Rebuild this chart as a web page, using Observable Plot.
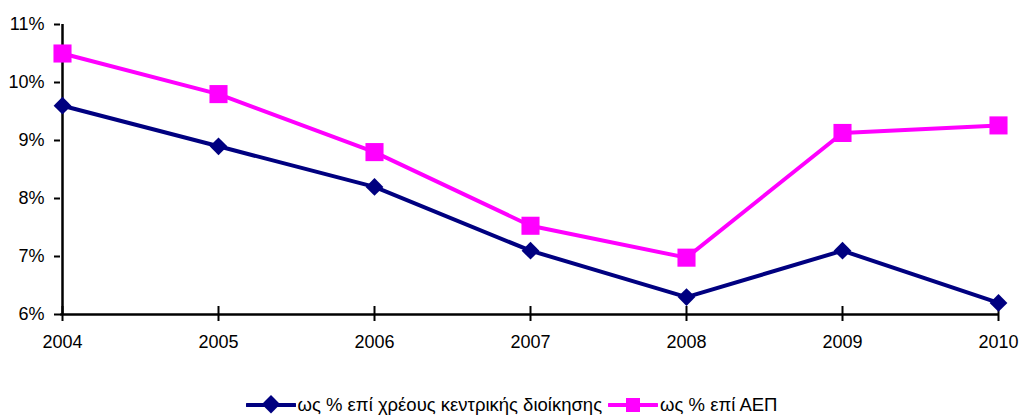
<!DOCTYPE html>
<html>
<head>
<meta charset="utf-8">
<script src="https://cdn.jsdelivr.net/npm/d3@7"></script>
<script src="https://cdn.jsdelivr.net/npm/@observablehq/plot@0.6"></script>
<style>
  html, body { margin: 0; padding: 0; background: #fff; }
  body { width: 1019px; height: 415px; overflow: hidden; font-family: "Liberation Sans", Arial, sans-serif; }
  #legend { display: flex; justify-content: center; align-items: center; margin-top: 34px; font-size: 18.5px; color: #000; height: 22px; padding-left: 4px; }
  #legend .item { display: flex; align-items: center; margin: 0 3px; }
  #legend svg { margin-right: 2px; }
  #chart svg text { font-size: 18px; }
</style>
</head>
<body>
<div id="chart"></div>
<div id="legend"></div>
<script>
const years = [2004, 2005, 2006, 2007, 2008, 2009, 2010];
const debtShare = [9.6, 8.9, 8.2, 7.1, 6.3, 7.1, 6.2];
const gdpShare = [10.5, 9.8, 8.8, 7.53, 6.98, 9.13, 9.26];
const yTicks = [6, 7, 8, 9, 10, 11];
const seriesNames = ["ως % επί χρέους κεντρικής διοίκησης", "ως % επί ΑΕΠ"];
const seriesColors = ["#000080", "#FF00FF"];

const debtData = years.map((y, i) => ({year: y, value: debtShare[i]}));
const gdpData = years.map((y, i) => ({year: y, value: gdpShare[i]}));

const chart = Plot.plot({
  width: 1019,
  height: 360,
  marginLeft: 60,
  marginRight: 20,
  marginTop: 24,
  marginBottom: 46,
  style: {fontFamily: "Liberation Sans, Arial, sans-serif", fontSize: "18px", color: "#000", background: "#fff", overflow: "visible"},
  x: {type: "point", domain: years, padding: 0},
  y: {domain: [6, 11]},
  marks: [
    Plot.axisY({ticks: yTicks, tickFormat: d => d + "%", tickSize: 6, tickPadding: 10, label: null, stroke: "#000", strokeWidth: 2, strokeOpacity: 1}),
    Plot.axisX({tickFormat: d => String(d), tickSize: 7, tickPadding: 14, label: null, stroke: "#000", strokeWidth: 2, strokeOpacity: 1}),
    Plot.axisX({tickSize: -8, text: null, label: null, stroke: "#000", strokeWidth: 2, strokeOpacity: 1}),
    Plot.ruleX([6], {x: () => years[0], stroke: "#000", strokeWidth: 2.5}),
    Plot.ruleY([6], {stroke: "#000", strokeWidth: 2.5}),
    Plot.line(debtData, {x: "year", y: "value", stroke: seriesColors[0], strokeWidth: 4}),
    Plot.line(gdpData, {x: "year", y: "value", stroke: seriesColors[1], strokeWidth: 4}),
    Plot.dot(debtData, {x: "year", y: "value", symbol: "diamond2", r: 8, fill: seriesColors[0], stroke: "none"}),
    Plot.dot(gdpData, {x: "year", y: "value", symbol: "square", r: 10.2, fill: seriesColors[1], stroke: "none"})
  ]
});
document.getElementById("chart").appendChild(chart);

const legend = document.getElementById("legend");
seriesNames.forEach((name, i) => {
  const item = document.createElement("div");
  item.className = "item";
  const marker = i === 0
    ? `<rect x="18" y="3" width="13" height="13" transform="rotate(45 25 10)" fill="${seriesColors[i]}"/>`
    : `<rect x="18" y="3" width="14" height="14" fill="${seriesColors[i]}"/>`;
  item.innerHTML = `<svg width="50" height="20"><line x1="1" y1="10" x2="49" y2="10" stroke="${seriesColors[i]}" stroke-width="4" stroke-linecap="round"/>${marker}</svg><span>${name}</span>`;
  legend.appendChild(item);
});
</script>
</body>
</html>
